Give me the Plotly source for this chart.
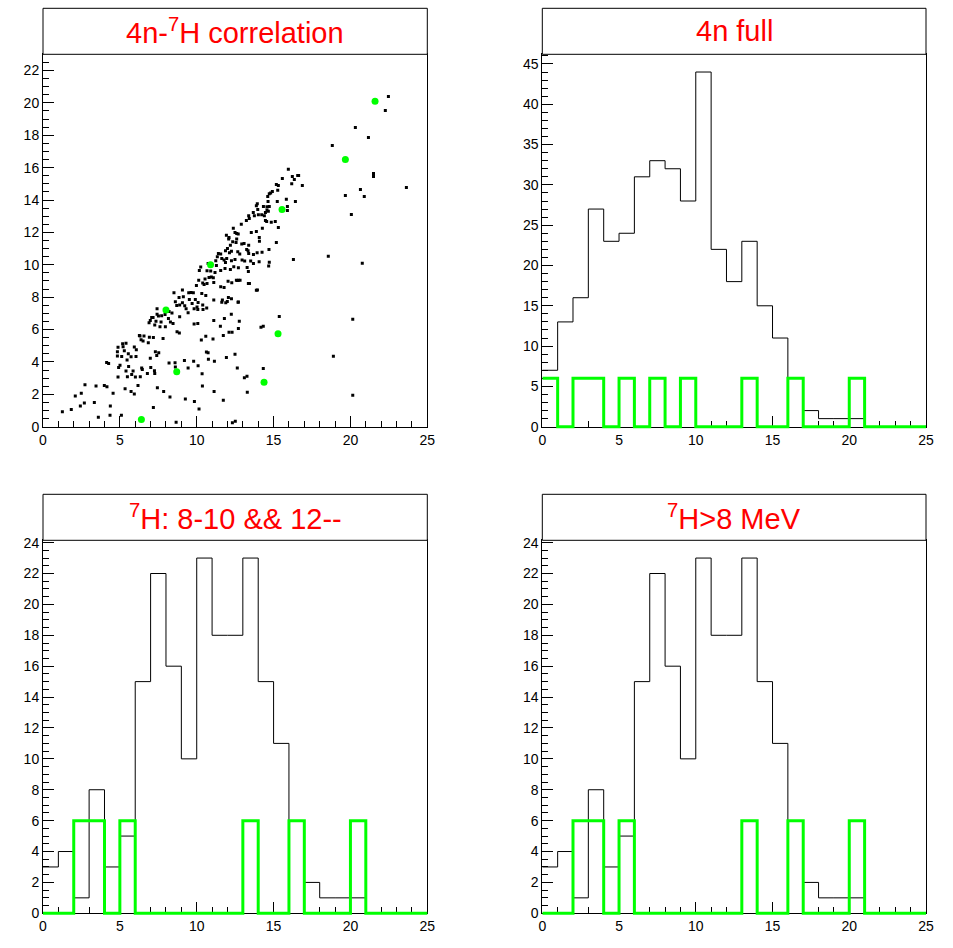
import plotly.graph_objects as go

W, H = 953, 948

# ---------------- data ----------------
bin_edges = list(range(0, 26))

full4n_black = [7, 13, 16, 27, 23, 24, 31, 33, 32, 28, 44, 22, 18, 23, 15, 11, 6, 2, 1, 1, 1, 0, 0, 0, 0]
full4n_green = [6, 0, 6, 6, 0, 6, 0, 6, 0, 6, 0, 0, 0, 6, 0, 0, 6, 0, 0, 0, 6, 0, 0, 0, 0]

h7_cut_black = [3, 4, 1, 8, 3, 5, 15, 22, 16, 10, 23, 18, 18, 23, 15, 11, 6, 2, 1, 1, 1, 0, 0, 0, 0]
h7_cut_green = [0, 0, 6, 6, 0, 6, 0, 0, 0, 0, 0, 0, 0, 6, 0, 0, 6, 0, 0, 0, 6, 0, 0, 0, 0]

h7_gt8_black = [3, 4, 1, 8, 3, 5, 15, 22, 16, 10, 23, 18, 18, 23, 15, 11, 6, 2, 1, 1, 1, 0, 0, 0, 0]
h7_gt8_green = [0, 0, 6, 6, 0, 6, 0, 0, 0, 0, 0, 0, 0, 6, 0, 0, 6, 0, 0, 0, 6, 0, 0, 0, 0]

# scatter: x = 7H energy, y = 4n energy
corr_green_x = [6.4, 8.0, 8.7, 10.9, 14.38, 15.29, 15.55, 19.67, 21.6]
corr_green_y = [0.45, 7.2, 3.4, 10.0, 2.74, 5.74, 13.42, 16.5, 20.1]

# (x, y) pairs
corr_pts = [
    # upper / sparse region
    (22.47, 20.4), (22.27, 19.53), (20.32, 18.48), (21.17, 17.86), (18.82, 17.37), (21.5, 15.64),
    (21.5, 15.46), (23.64, 14.78), (20.65, 14.65), (19.67, 14.28), (20.9, 14.22), (20.06, 13.11),
    (15.96, 15.9), (15.57, 15.33), (16.22, 15.46), (16.57, 15.52), (16.63, 15.52), (16.35, 15.27),
    (16.87, 14.9), (16.18, 15.0), (15.18, 14.96), (15.31, 14.9), (15.27, 14.61), (14.92, 14.53),
    (14.72, 14.38), (14.81, 14.43), (14.62, 14.22), (15.83, 14.04), (16.42, 13.91), (15.24, 13.91),
    (14.64, 13.91), (13.94, 13.77), (15.9, 13.6), (15.9, 13.36), (14.72, 13.6), (14.57, 13.58),
    (14.34, 13.6), (13.88, 13.64), (13.97, 13.42), (14.57, 13.38), (14.66, 13.3), (14.47, 13.23),
    (13.68, 13.23), (13.75, 13.03), (14.01, 13.09), (14.23, 13.09), (14.4, 13.03), (13.38, 13.03),
    (13.42, 12.86), (13.23, 12.74), (12.9, 12.51), (14.47, 12.74), (14.55, 12.68), (14.85, 12.62),
    (15.11, 12.68), (15.31, 12.31), (14.27, 12.25), (13.55, 12.0), (13.88, 12.06), (12.38, 12.25),
    (12.49, 12.0), (12.6, 11.94), (12.7, 11.9), (11.93, 11.82), (12.1, 11.69), (12.08, 11.6),
    (12.6, 11.6), (14.07, 11.69),
    # right side, middle / low
    (15.18, 11.38), (14.7, 10.95), (16.29, 10.33), (18.56, 10.52), (20.77, 10.09), (14.72, 10.15),
    (14.68, 9.92), (13.88, 8.42), (15.37, 6.81), (20.15, 6.63), (14.18, 6.14), (14.33, 6.2),
    (18.89, 4.35), (14.33, 3.6), (12.64, 3.62), (13.1, 3.02), (13.27, 3.11), (13.29, 2.12),
    (20.15, 1.94), (11.73, 1.63), (12.49, 4.47), (11.93, 4.28), (12.32, 0.25), (12.51, 0.33),
    (12.69, 7.68), (12.71, 6.07), (12.1, 5.83), (12.3, 5.83), (11.73, 5.64), (12.77, 6.52),
    (12.25, 6.94), (11.8, 6.69), (13.36, 8.85), (12.71, 9.04), (12.58, 9.04),
    (11.54, 6.2), (11.63, 7.68), (11.99, 7.74),
    # band x 11.5-14, y 7.5-11.5
    (14.08, 11.46), (12.56, 11.38), (12.34, 11.42), (12.19, 11.21), (13.08, 11.32), (13.38, 11.21),
    (13.25, 10.95), (13.34, 10.86), (12.93, 11.28), (12.26, 10.84), (12.0, 11.01), (11.87, 10.86),
    (12.13, 10.74), (12.67, 10.8), (12.8, 10.66), (13.38, 10.7), (13.69, 10.64), (13.93, 10.74),
    (14.06, 10.19), (13.51, 10.23), (12.95, 10.29), (13.12, 10.23), (12.49, 10.33), (12.26, 10.25),
    (11.95, 10.39), (11.63, 10.39), (11.87, 10.14), (11.78, 10.29), (11.56, 10.66), (13.28, 9.84),
    (12.71, 9.81), (12.41, 9.88), (12.82, 9.05), (12.04, 8.99), (11.56, 9.65), (11.84, 9.77),
    (13.95, 8.44), (13.43, 8.85), (12.65, 9.03), (12.28, 8.89), (11.78, 8.6), (12.19, 9.71),
    (11.56, 8.64), (12.06, 7.98), (11.67, 7.82), (12.26, 7.9), (12.71, 7.7), (11.89, 7.65),
    (14.25, 10.78), (13.69, 10.08), (13.36, 9.59),
    # left part, low region
    (1.26, 0.93), (1.84, 1.07), (2.1, 1.89), (2.49, 2.06), (2.73, 2.59), (2.43, 1.28),
    (2.69, 1.46), (3.34, 1.5), (3.45, 2.51), (3.6, 0.58), (3.99, 2.55), (4.16, 2.47),
    (4.14, 3.97), (4.27, 3.91), (4.38, 1.28), (4.56, 2.06), (4.36, 0.7), (4.84, 4.63),
    (4.84, 4.36), (4.92, 3.66), (5.01, 3.79), (4.88, 3.07), (5.1, 0.7), (4.88, 4.9),
    (5.18, 5.12), (5.4, 5.16), (5.29, 4.69), (5.12, 4.34), (5.21, 4.94), (5.34, 2.35),
    (5.47, 4.12), (5.55, 4.51), (5.57, 3.72), (5.4, 3.44), (5.49, 3.09), (5.73, 4.32),
    (5.77, 3.23), (5.73, 2.18), (5.94, 2.02), (5.86, 3.44), (5.94, 4.92), (6.05, 4.34),
    (6.07, 4.75), (6.01, 3.07), (6.27, 5.64), (6.38, 5.37), (6.31, 5.6), (6.18, 2.55),
    (6.33, 3.09), (6.42, 3.62), (6.46, 3.54), (6.51, 5.29), (6.57, 5.6), (6.79, 3.29),
    (6.85, 5.19), (6.92, 5.53), (7.01, 3.66), (6.98, 4.22), (7.18, 5.51), (7.27, 3.29),
    (7.31, 4.63), (7.25, 3.46), (7.4, 4.4), (7.44, 2.41), (7.53, 4.57), (7.18, 1.19),
    (7.81, 5.45), (7.85, 2.18), (8.2, 3.93), (8.26, 1.83), (8.59, 3.95), (8.61, 3.68),
    (8.66, 0.27), (8.72, 5.86), (8.87, 5.78), (9.2, 4.09), (9.26, 1.71), (9.44, 3.62),
    (9.8, 4.05), (9.85, 1.56), (10.09, 3.77), (10.15, 1.09), (10.35, 3.27), (10.37, 2.51),
    (10.3, 5.35), (10.59, 5.58), (10.63, 4.61), (10.74, 4.57), (10.76, 4.16), (11.13, 2.18),
    (11.06, 5.41), (11.15, 4.05),
    # left part, middle band
    (6.9, 6.42), (6.98, 6.56), (7.07, 6.75), (7.16, 6.75), (7.27, 6.28), (7.35, 6.52),
    (7.42, 7.28), (7.42, 6.95), (7.51, 6.83), (7.61, 6.17), (7.68, 6.46), (7.72, 6.85),
    (7.96, 6.17), (7.94, 6.93), (8.16, 6.69), (8.2, 7.12), (8.29, 6.46), (8.46, 6.38),
    (8.39, 7.02), (8.52, 8.27), (8.61, 7.72), (8.7, 7.49), (8.85, 7.98), (8.89, 6.79),
    (8.89, 7.51), (9.07, 8.44), (9.07, 7.65), (9.13, 8.02), (9.22, 7.47), (9.31, 7.28),
    (9.44, 7.04), (9.48, 8.27), (9.52, 7.86), (9.63, 8.29), (9.7, 7.61), (9.78, 8.27),
    (9.83, 6.34), (9.83, 7.28), (9.91, 7.86), (9.98, 8.72), (10.02, 7.39), (10.07, 7.24),
    (10.09, 7.67), (10.07, 6.38), (10.17, 9.65), (10.13, 9.05), (10.26, 9.86), (10.33, 8.23),
    (10.39, 8.87), (10.39, 7.51), (10.41, 7.24), (10.54, 9.12), (10.48, 8.79), (10.59, 8.11),
    (10.67, 8.85), (10.67, 9.63), (10.74, 10.08), (10.65, 7.33), (10.8, 9.22), (10.91, 9.61),
    (10.95, 9.24), (11.08, 9.2), (11.11, 8.91), (11.19, 9.53), (11.11, 7.82), (11.11, 6.56),
    (11.24, 10.25), (11.28, 9.96), (11.34, 10.49), (11.41, 10.7),
]
corr_x = [p[0] for p in corr_pts]
corr_y = [p[1] for p in corr_pts]

titles = ["4n-<sup>7</sup>H correlation", "4n full",
          "<sup>7</sup>H: 8-10 && 12--", "<sup>7</sup>H&gt;8 MeV"]

# ---------------- layout geometry (pixels) ----------------
col_px = [(43.0, 427.3), (542.3, 926.0)]
row_px = [(54.3, 426.7), (540.3, 913.3)]
title_h = 46.0
EXT = 3.0  # extra pixels for unclipped green baseline


def px_x(a, b):
    return [a / W, b / W]


def px_y(top, bottom):
    return [1 - bottom / H, 1 - top / H]


fig = go.Figure()

FONT = "Liberation Sans, Arial, Helvetica, sans-serif"


def hist_trace(vals, color, width, axis):
    return go.Scatter(x=bin_edges, y=vals + [vals[-1]], mode="lines",
                      line=dict(color=color, width=width, shape="hv"),
                      xaxis=axis[0], yaxis=axis[1], showlegend=False,
                      hoverinfo="skip")


# panel 1 scatter
fig.add_trace(go.Scatter(x=corr_x, y=corr_y, mode="markers",
                         marker=dict(symbol="square", size=3, color="black",
                                     line=dict(width=0)),
                         xaxis="x", yaxis="y", showlegend=False))
fig.add_trace(go.Scatter(x=corr_green_x, y=corr_green_y, mode="markers",
                         marker=dict(symbol="circle", size=7, color="#00ff00",
                                     line=dict(width=0)),
                         xaxis="x", yaxis="y", showlegend=False))
# black histograms on main axes
fig.add_trace(hist_trace(full4n_black, "black", 1, ("x2", "y2")))
fig.add_trace(hist_trace(h7_cut_black, "black", 1, ("x3", "y3")))
fig.add_trace(hist_trace(h7_gt8_black, "black", 1, ("x4", "y4")))
# green histograms on slightly enlarged invisible axes (same data scale)
fig.add_trace(hist_trace(full4n_green, "#00ff00", 3, ("x5", "y5")))
fig.add_trace(hist_trace(h7_cut_green, "#00ff00", 3, ("x6", "y6")))
fig.add_trace(hist_trace(h7_gt8_green, "#00ff00", 3, ("x7", "y7")))

yranges = [(0, 23.0, 2, 0.5), (0, 46.2, 5, 1), (0, 24.15, 2, 0.5), (0, 24.15, 2, 0.5)]
XR = (0, 25)

axis_common = dict(showline=True, mirror=True, linecolor="black", linewidth=1,
                   showgrid=False, zeroline=False, ticks="inside", ticklen=11,
                   tickwidth=1, tickcolor="black",
                   tickfont=dict(family=FONT, size=14, color="black"))

layout = dict(width=W, height=H, margin=dict(l=0, r=0, t=0, b=0, autoexpand=False),
              paper_bgcolor="white", plot_bgcolor="rgba(0,0,0,0)", showlegend=False,
              shapes=[], annotations=[])

for i in range(4):
    r, c = divmod(i, 2)
    suffix = "" if i == 0 else str(i + 1)
    xa = dict(axis_common, domain=px_x(*col_px[c]), range=list(XR), dtick=5, tick0=0,
              anchor="y" + suffix,
              minor=dict(ticks="inside", ticklen=6, dtick=1, tickcolor="black", tickwidth=1))
    y0, y1, dt, mdt = yranges[i]
    ya = dict(axis_common, domain=px_y(*row_px[r]), range=[y0, y1], dtick=dt, tick0=0,
              anchor="x" + suffix,
              minor=dict(ticks="inside", ticklen=6, dtick=mdt, tickcolor="black", tickwidth=1))
    layout["xaxis" + suffix] = xa
    layout["yaxis" + suffix] = ya
    # title box
    top = row_px[r][0] - title_h
    bot = row_px[r][0]
    layout["shapes"].append(dict(type="rect", xref="paper", yref="paper",
                                 x0=col_px[c][0] / W, x1=col_px[c][1] / W,
                                 y0=1 - bot / H, y1=1 - top / H,
                                 line=dict(color="black", width=1), fillcolor="white"))
    layout["annotations"].append(dict(xref="paper", yref="paper",
                                      x=(col_px[c][0] + col_px[c][1]) / 2 / W,
                                      y=1 - (top + bot) / 2 / H,
                                      xanchor="center", yanchor="middle", showarrow=False,
                                      text=titles[i],
                                      font=dict(family=FONT, size=29, color="red")))
    # enlarged twin axes for the green histograms
    if i > 0:
        k = str(i + 4)
        xl, xr = col_px[c]
        yt, yb = row_px[r]
        ux = (xr - xl) / (XR[1] - XR[0])
        uy = (yb - yt) / (y1 - y0)
        layout["xaxis" + k] = dict(visible=False, domain=px_x(xl, xr + EXT),
                                   range=[XR[0], XR[1] + EXT / ux], anchor="y" + k,
                                   fixedrange=True)
        layout["yaxis" + k] = dict(visible=False, domain=px_y(yt, yb + EXT),
                                   range=[y0 - EXT / uy, y1], anchor="x" + k,
                                   fixedrange=True)

fig.update_layout(**layout)
fig.write_html("out.html", config={"displayModeBar": False},
               post_script="document.body.style.margin='0';document.body.style.overflow='hidden';")
